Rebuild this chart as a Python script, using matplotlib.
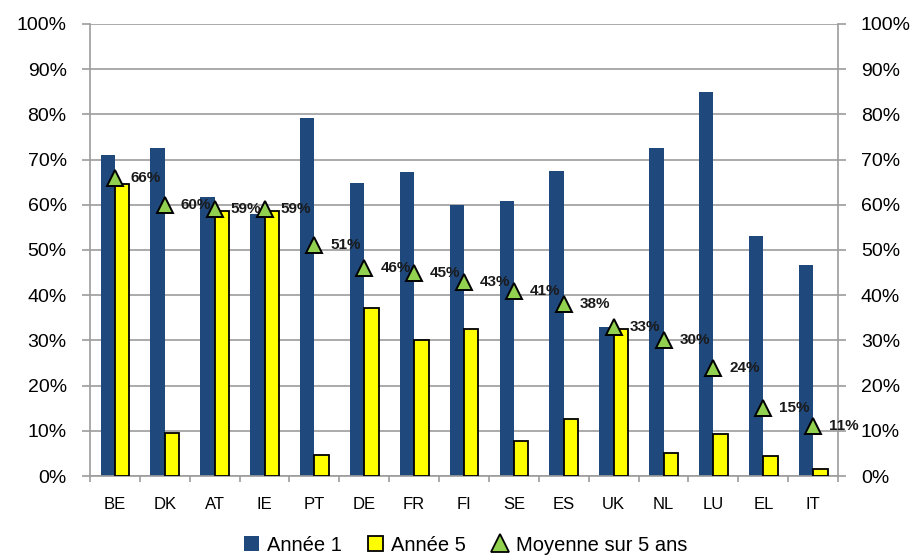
import numpy as np
import matplotlib
matplotlib.use("Agg")
import matplotlib.pyplot as plt
from matplotlib.patches import Patch
from matplotlib.lines import Line2D
from matplotlib.ticker import FixedLocator, PercentFormatter

plt.rcParams['font.family'] = ['Liberation Sans', 'DejaVu Sans']

countries = ["BE", "DK", "AT", "IE", "PT", "DE", "FR", "FI", "SE", "ES",
             "UK", "NL", "LU", "EL", "IT"]
annee_1 = [71.1, 72.5, 61.7, 58.0, 79.2, 64.8, 67.2, 60.0, 60.8, 67.5,
           32.9, 72.5, 85.0, 53.2, 46.6]
annee_5 = [64.5, 9.6, 58.6, 58.7, 4.6, 37.1, 30.1, 32.5, 7.8, 12.7,
           32.6, 5.2, 9.3, 4.5, 1.5]
moyenne_5_ans = [66, 60, 59, 59, 51, 46, 45, 43, 41, 38, 33, 30, 24, 15, 11]
y_ticks = [0, 10, 20, 30, 40, 50, 60, 70, 80, 90, 100]

blue = "#1F497D"
yellow = "#FFFF00"
green = "#92D050"
grey = "#9C9C9C"

fig = plt.figure(figsize=(9.18, 5.55), dpi=100)
ax = fig.add_axes([0.098, 0.1423, 0.815, 0.8145])

x = np.arange(len(countries))
w = 0.288
ax.bar(x - w / 2, annee_1, width=w, color=blue, edgecolor="none", zorder=2)
ax.bar(x + w / 2, annee_5, width=w, color=yellow, edgecolor="black",
       linewidth=1.3, zorder=3)
ax.plot(x, moyenne_5_ans, linestyle="none", marker="^", markersize=11,
        markerfacecolor=green, markeredgecolor="black", markeredgewidth=1.4,
        zorder=5)
for xi, v in zip(x, moyenne_5_ans):
    ax.annotate(f"{v}%", (xi, v), xytext=(11.5, 0), textcoords="offset points",
                ha="left", va="center", fontsize=11, fontweight="bold",
                color="#1a1a1a", zorder=6)

ax.set_xlim(-0.5, len(countries) - 0.5)
ax.set_ylim(0, 100)
ax.set_yticks(y_ticks)
ax.yaxis.set_major_formatter(PercentFormatter(decimals=0))
ax.set_xticks(x)
ax.set_xticklabels(countries, fontsize=12)
ax.xaxis.set_minor_locator(FixedLocator(np.arange(-0.5, len(countries), 1.0)))
ax.tick_params(axis="x", which="major", length=0, pad=15)
ax.tick_params(axis="x", which="minor", length=4.5, width=1.2, color=grey,
               direction="out")
ax.tick_params(axis="y", length=5.8, width=1.2, color=grey, direction="out",
               labelsize=14, pad=11)
ax.grid(axis="y", color=grey, linewidth=1.2, zorder=0)
ax.set_axisbelow(True)
for side in ["left", "right", "bottom"]:
    ax.spines[side].set_color(grey)
    ax.spines[side].set_linewidth(1.2)
ax.spines["top"].set_visible(False)

ax2 = ax.twinx()
ax2.set_ylim(0, 100)
ax2.set_yticks(y_ticks)
ax2.yaxis.set_major_formatter(PercentFormatter(decimals=0))
ax2.tick_params(axis="y", length=5.8, width=1.2, color=grey, direction="out",
                labelsize=14, pad=10.5)
for side in ["left", "right", "bottom", "top"]:
    ax2.spines[side].set_visible(False)

handles = [
    Patch(facecolor=blue, edgecolor="none"),
    Patch(facecolor=yellow, edgecolor="black", linewidth=1.3),
    Line2D([], [], linestyle="none", marker="^", markersize=13,
           markerfacecolor=green, markeredgecolor="black", markeredgewidth=1.3),
]
labels = ["Année 1", "Année 5", "Moyenne sur 5 ans"]
fig.legend(handles, labels, loc="center", bbox_to_anchor=(0.507, 0.018),
           ncol=3, frameon=False, fontsize=14.5, handlelength=0.75,
           handleheight=0.75, handletextpad=0.4, columnspacing=1.3,
           borderaxespad=0, borderpad=0)

fig.savefig("out.png", dpi=100)
